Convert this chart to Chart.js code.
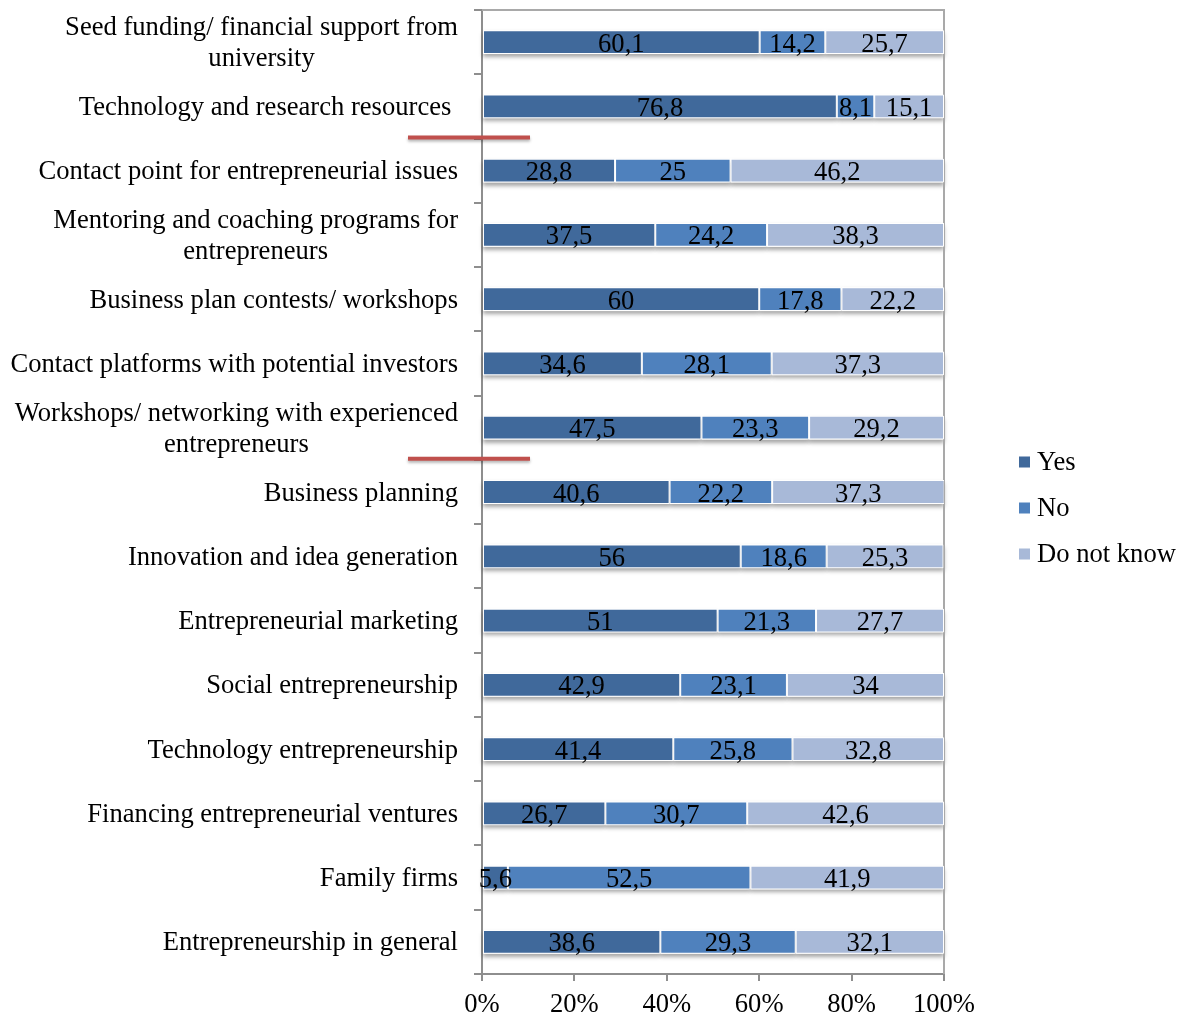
<!DOCTYPE html>
<html>
<head>
<meta charset="utf-8">
<title>University support for entrepreneurship</title>
<script src="https://cdn.jsdelivr.net/npm/chart.js@4.4.1/dist/chart.umd.min.js"></script>
<style>
  html, body { margin: 0; padding: 0; background: #fff; }
  #wrap { width: 1183px; height: 1016px; }
</style>
</head>
<body>
<div id="wrap"><canvas id="chart" width="1183" height="1016"></canvas></div>
<script>
// rows, top to bottom (each label split into its printed lines)
const categories = [
  ["Seed funding/ financial support from", "university"],
  ["Technology and research resources "],
  ["Contact point for entrepreneurial issues"],
  ["Mentoring and coaching programs for", "entrepreneurs"],
  ["Business plan contests/ workshops"],
  ["Contact platforms with potential investors"],
  ["Workshops/ networking with experienced", "entrepreneurs"],
  ["Business planning"],
  ["Innovation and idea generation"],
  ["Entrepreneurial marketing"],
  ["Social entrepreneurship"],
  ["Technology entrepreneurship"],
  ["Financing entrepreneurial ventures"],
  ["Family firms"],
  ["Entrepreneurship in general"]
];

const yesValues      = [60.1, 76.8, 28.8, 37.5, 60, 34.6, 47.5, 40.6, 56, 51, 42.9, 41.4, 26.7, 5.6, 38.6];
const noValues       = [14.2, 8.1, 25, 24.2, 17.8, 28.1, 23.3, 22.2, 18.6, 21.3, 23.1, 25.8, 30.7, 52.5, 29.3];
const dontKnowValues = [25.7, 15.1, 46.2, 38.3, 22.2, 37.3, 29.2, 37.3, 25.3, 27.7, 34, 32.8, 42.6, 41.9, 32.1];

const seriesNames  = ["Yes", "No", "Do not know"];
const seriesColors = ["#40699b", "#4f81bd", "#a8b9d8"];

const xTicks = [0, 20, 40, 60, 80, 100];

// red dividers drawn below these rows
const dividerAfter = [1, 6];

const FONT_SIZE = 26.6;
const FONT = FONT_SIZE + "px 'Liberation Serif', 'Times New Roman', serif";
const AXIS_GRAY = "#8e8e8e";

Chart.defaults.font.family = "'Liberation Serif', 'Times New Roman', serif";
Chart.defaults.font.size = FONT_SIZE;
Chart.defaults.color = "#000";

function fmt(v) {
  return String(v).replace(".", ",");
}

// soft drop shadow under every bar (white rects, covered by the bars afterwards)
const barShadow = {
  id: "barShadow",
  beforeDatasetsDraw(chart) {
    const { ctx } = chart;
    ctx.save();
    ctx.shadowColor = "rgba(0,0,0,0.35)";
    ctx.shadowBlur = 4;
    ctx.shadowOffsetY = 3;
    ctx.shadowOffsetX = 0;
    ctx.fillStyle = "#fff";
    chart.data.datasets.forEach((ds, i) => {
      chart.getDatasetMeta(i).data.forEach(bar => {
        const left = Math.min(bar.x, bar.base);
        const w = Math.abs(bar.x - bar.base);
        ctx.fillRect(left, bar.y - bar.height / 2, w, bar.height);
      });
    });
    ctx.restore();

    // top and right frame of the plot
    const { left, right, top, bottom } = chart.chartArea;
    ctx.save();
    ctx.strokeStyle = "#a9a9a9";
    ctx.lineWidth = 2;
    ctx.beginPath();
    ctx.moveTo(left, top);
    ctx.lineTo(right, top);
    ctx.lineTo(right, bottom);
    ctx.stroke();
    ctx.restore();
  }
};

// value printed in the middle of each segment
const segmentValues = {
  id: "segmentValues",
  afterDatasetsDraw(chart) {
    const { ctx } = chart;
    ctx.save();
    ctx.font = FONT;
    ctx.fillStyle = "#000";
    ctx.textAlign = "center";
    ctx.textBaseline = "alphabetic";
    chart.data.datasets.forEach((ds, i) => {
      chart.getDatasetMeta(i).data.forEach((bar, j) => {
        const cx = (bar.x + bar.base) / 2;
        ctx.fillText(fmt(ds.data[j]), cx, bar.y + 9.5);
      });
    });
    ctx.restore();
  }
};

// category names, lines centred on each other, block right aligned
const rowLabels = {
  id: "rowLabels",
  afterDraw(chart) {
    const { ctx } = chart;
    const y = chart.scales.y;
    const right = chart.chartArea.left - 24;
    const lh = 31;
    ctx.save();
    ctx.font = FONT;
    ctx.fillStyle = "#000";
    ctx.textAlign = "center";
    ctx.textBaseline = "alphabetic";
    categories.forEach((lines, i) => {
      const cy = y.getPixelForValue(i);
      const w = Math.max(...lines.map(l => ctx.measureText(l).width));
      const cx = right - w / 2;
      const first = cy + 8.6 - (lines.length - 1) * lh / 2;
      lines.forEach((l, k) => ctx.fillText(l, cx, first + k * lh));
    });
    ctx.restore();
  }
};

// red dividers between groups of rows
const dividers = {
  id: "dividers",
  afterDatasetsDraw(chart) {
    const { ctx, chartArea } = chart;
    const y = chart.scales.y;
    ctx.save();
    ctx.strokeStyle = "#c0504d";
    ctx.lineWidth = 4;
    ctx.shadowColor = "rgba(0,0,0,0.3)";
    ctx.shadowBlur = 3;
    ctx.shadowOffsetY = 2;
    dividerAfter.forEach(i => {
      const py = (y.getPixelForValue(i) + y.getPixelForValue(i + 1)) / 2 - 1;
      ctx.beginPath();
      ctx.moveTo(chartArea.left - 74, py);
      ctx.lineTo(chartArea.left + 48, py);
      ctx.stroke();
    });
    ctx.restore();
  }
};

// legend on the right, stacked vertically
const sideLegend = {
  id: "sideLegend",
  afterDraw(chart) {
    const { ctx, chartArea } = chart;
    const x = chartArea.right + 75;
    const gap = 46;
    const y0 = chart.height / 2 - gap * (seriesNames.length - 1) / 2;
    ctx.save();
    ctx.font = FONT;
    ctx.textAlign = "left";
    ctx.textBaseline = "middle";
    seriesNames.forEach((name, i) => {
      const cy = y0 + i * gap;
      ctx.fillStyle = seriesColors[i];
      ctx.fillRect(x, cy - 5.5, 11, 11);
      ctx.fillStyle = "#000";
      ctx.fillText(name, x + 18, cy + 1);
    });
    ctx.restore();
  }
};

const seriesValues = [yesValues, noValues, dontKnowValues];

new Chart(document.getElementById("chart"), {
  type: "bar",
  data: {
    labels: categories.map(l => l.join(" ").trim()),
    datasets: seriesNames.map((name, i) => ({
      label: name,
      data: seriesValues[i],
      backgroundColor: seriesColors[i],
      borderColor: "#fff",
      borderWidth: 1,
      borderSkipped: false,
      categoryPercentage: 1,
      barPercentage: 0.37
    }))
  },
  options: {
    indexAxis: "y",
    responsive: false,
    animation: false,
    devicePixelRatio: 1,
    layout: { padding: { top: 10, right: 239, bottom: 0, left: 0 } },
    plugins: {
      legend: { display: false },
      tooltip: { enabled: false }
    },
    scales: {
      x: {
        stacked: true,
        min: 0,
        max: 100,
        afterBuildTicks: scale => {
          scale.ticks = xTicks.map(v => ({ value: v }));
        },
        afterFit: scale => { scale.height = 42; },
        ticks: {
          callback: v => v + "%",
          color: "#000",
          padding: 8,
          maxRotation: 0
        },
        grid: {
          drawOnChartArea: false,
          drawTicks: true,
          tickLength: 7,
          color: AXIS_GRAY,
          lineWidth: 2
        },
        border: { color: AXIS_GRAY, width: 2 }
      },
      y: {
        stacked: true,
        ticks: { display: false },
        afterFit: scale => { scale.width = 482; },
        grid: {
          offset: true,
          drawOnChartArea: false,
          drawTicks: true,
          tickLength: 8,
          color: AXIS_GRAY,
          lineWidth: 2
        },
        border: { color: AXIS_GRAY, width: 2 }
      }
    }
  },
  plugins: [barShadow, segmentValues, dividers, rowLabels, sideLegend]
});
</script>
</body>
</html>
